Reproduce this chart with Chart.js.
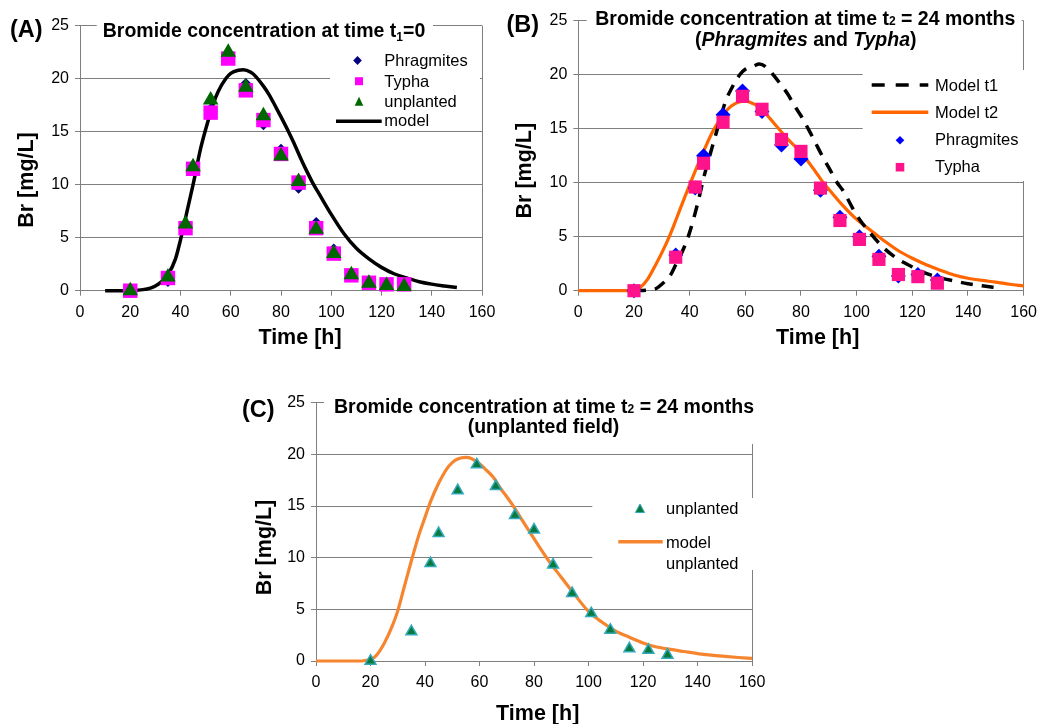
<!DOCTYPE html>
<html>
<head>
<meta charset="utf-8">
<script src="https://cdn.jsdelivr.net/npm/chart.js@4.4.1/dist/chart.umd.min.js"></script>
<style>
  html, body { margin: 0; padding: 0; background: #fff; }
  #wrap { position: relative; width: 1044px; height: 724px; overflow: hidden; }
  canvas, svg { position: absolute; left: 0; top: 0; }
  text { font-family: "Liberation Sans", Arial, sans-serif; fill: #000; }
  .ttl { font-size: 19.5px; font-weight: bold; }
  .ax { font-size: 21.5px; font-weight: bold; }
  .lbl { font-size: 23.5px; font-weight: bold; }
  .leg { font-size: 16.5px; }
</style>
</head>
<body>
<div id="wrap">
  <canvas id="chartA" width="1044" height="724"></canvas>
  <canvas id="chartB" width="1044" height="724"></canvas>
  <canvas id="chartC" width="1044" height="724"></canvas>
  <svg width="1044" height="724">
    <!-- white boxes behind titles and legends -->
    <rect x="96.7" y="17" width="336.3" height="26" fill="#fff"/>
    <rect x="330" y="45" width="150" height="83" fill="#fff"/>
    <rect x="586.7" y="3" width="435" height="51" fill="#fff"/>
    <rect x="862.7" y="70" width="181.3" height="111" fill="#fff"/>
    <rect x="324" y="392" width="438" height="52" fill="#fff"/>
    <rect x="592.3" y="498" width="168" height="72" fill="#fff"/>

    <!-- panel labels -->
    <text class="lbl" x="10" y="36.8">(A)</text>
    <text class="lbl" x="506.5" y="31.8">(B)</text>
    <text class="lbl" x="242" y="416.8">(C)</text>

    <!-- titles -->
    <text class="ttl" x="264" y="37.3" text-anchor="middle">Bromide concentration at time t<tspan font-size="12" dy="4">1</tspan><tspan dy="-4">=0</tspan></text>
    <text class="ttl" x="805.3" y="25" text-anchor="middle">Bromide concentration at time t<tspan font-size="12">2</tspan> = 24 months</text>
    <text class="ttl" x="805.8" y="45.9" text-anchor="middle">(<tspan font-style="italic">Phragmites</tspan> and <tspan font-style="italic">Typha</tspan>)</text>
    <text class="ttl" x="544" y="413" text-anchor="middle">Bromide concentration at time t<tspan font-size="12">2</tspan> = 24 months</text>
    <text class="ttl" x="543.5" y="432.6" text-anchor="middle">(unplanted field)</text>

    <!-- axis titles -->
    <text class="ax" text-anchor="middle" transform="translate(32.5,180) rotate(-90)">Br [mg/L]</text>
    <text class="ax" text-anchor="middle" transform="translate(531,170.7) rotate(-90)">Br [mg/L]</text>
    <text class="ax" text-anchor="middle" transform="translate(271,547.5) rotate(-90)">Br [mg/L]</text>
    <text class="ax" x="300" y="343.8" text-anchor="middle">Time [h]</text>
    <text class="ax" x="817.7" y="344" text-anchor="middle">Time [h]</text>
    <text class="ax" x="537.7" y="720" text-anchor="middle">Time [h]</text>

    <!-- legend A -->
    <polygon points="353.2,60.5 357.5,56 361.8,60.5 357.5,65" fill="#000080"/>
    <rect x="355" y="77.2" width="8" height="8" fill="#ff00ff"/>
    <polygon points="359,96.7 354.7,105.7 363.3,105.7" fill="#006600"/>
    <line x1="336" y1="121.3" x2="381.7" y2="121.3" stroke="#000" stroke-width="3.5"/>
    <text class="leg" x="384.3" y="66.3">Phragmites</text>
    <text class="leg" x="384.3" y="86.5">Typha</text>
    <text class="leg" x="384.3" y="106.5">unplanted</text>
    <text class="leg" x="384.3" y="126.3">model</text>

    <!-- legend B -->
    <line x1="871.7" y1="85" x2="928.3" y2="85" stroke="#000" stroke-width="3.5" stroke-dasharray="13 11"/>
    <line x1="871.7" y1="112.3" x2="928.3" y2="112.3" stroke="#ff6600" stroke-width="3.5"/>
    <polygon points="895.7,140.2 900,135.9 904.3,140.2 900,144.5" fill="#0000ff"/>
    <rect x="895.7" y="162.9" width="8.6" height="8.6" fill="#ff138c"/>
    <text class="leg" x="935" y="90.7">Model t1</text>
    <text class="leg" x="935" y="117.5">Model t2</text>
    <text class="leg" x="935" y="144.5">Phragmites</text>
    <text class="leg" x="935" y="171.5">Typha</text>

    <!-- legend C -->
    <polygon points="640,504 635.4,512.5 644.6,512.5" fill="#0a7a3c" stroke="#33a9bd" stroke-width="1"/>
    <line x1="618.3" y1="541.7" x2="662.7" y2="541.7" stroke="#f5862f" stroke-width="3.5"/>
    <text class="leg" x="666" y="513.5">unplanted</text>
    <text class="leg" x="666" y="548.3">model</text>
    <text class="leg" x="666" y="569.3">unplanted</text>
  </svg>
</div>
<script>
// sampling times of the tracer measurements [h]
const sampleTime = [20, 35, 42, 45, 52, 59, 66, 73, 80, 87, 94, 101, 108, 115, 122, 129];

// (A) t1 = 0
const phragA = [0, 1.0, 6.0, 11.6, 17.0, 22.0, 19.4, 15.8, 13.2, 9.8, 6.3, 3.8, 1.5, 0.8, 0.6, 0.6];
const typhaA = [0, 1.2, 5.9, 11.5, 16.8, 21.9, 18.9, 16.1, 12.9, 10.2, 5.9, 3.5, 1.45, 0.75, 0.6, 0.6];
const unplA = [0, 1.3, 6.3, 11.7, 18.0, 22.5, 19.2, 16.5, 12.7, 10.3, 5.8, 3.5, 1.5, 0.7, 0.5, 0.4];
const modelTimeA = [10, 20, 25, 28, 30, 33, 35, 38, 40, 43, 45, 48, 50, 53, 55, 58, 60, 63, 65, 68, 70,
  73, 75, 78, 80, 83, 85, 88, 90, 93, 95, 100, 105, 110, 115, 120, 125, 130, 135, 140, 145, 150];
const modelA = [0, 0, 0.1, 0.25, 0.45, 0.95, 1.5, 3.0, 4.8, 7.9, 10.0, 13.4, 15.2, 17.6, 18.8, 20.0, 20.5, 20.8, 20.85, 20.6, 20.2,
  19.3, 18.6, 17.3, 16.4, 15.0, 14.0, 12.4, 11.4, 10.0, 9.2, 7.2, 5.4, 4.0, 3.0, 2.2, 1.6, 1.2, 0.85, 0.62, 0.45, 0.3];

// (B) t2 = 24 months, planted
const phragB = [0, 3.3, 9.5, 12.5, 16.3, 18.5, 16.6, 13.5, 12.2, 9.3, 6.8, 5.0, 3.2, 1.35, 1.5, 1.0];
const typhaB = [0, 3.1, 9.6, 11.8, 15.6, 18.0, 16.8, 14.0, 12.9, 9.5, 6.5, 4.75, 2.9, 1.5, 1.3, 0.7];
const t1TimeB = [20, 25, 28, 30, 33, 35, 38, 40, 43, 45, 48, 50, 53, 55, 58, 60, 63, 65, 68, 70,
  73, 75, 78, 80, 83, 85, 88, 90, 93, 95, 100, 105, 110, 115, 120, 125, 130, 135, 140, 145, 150];
const t1B = [0, 0.05, 0.2, 0.6, 1.4, 2.4, 4.0, 5.4, 8.2, 10.4, 13.2, 15.0, 17.6, 18.7, 20.0, 20.5, 20.8, 21.0, 20.6, 20.0,
  19.0, 18.3, 17.0, 16.2, 14.8, 13.8, 12.3, 11.4, 10.0, 9.3, 7.0, 5.3, 3.9, 2.9, 2.2, 1.6, 1.2, 0.9, 0.65, 0.45, 0.3];
const t2TimeB = [0, 10, 18, 20, 22, 25, 28, 30, 33, 35, 38, 40, 43, 45, 48, 50, 53, 55, 58, 60, 63, 65, 68,
  70, 72, 75, 80, 85, 88, 90, 95, 100, 105, 108, 110, 115, 120, 125, 130, 135, 140, 145, 150, 155, 160];
const t2B = [0, 0, 0, 0.05, 0.25, 1.1, 2.5, 3.5, 5.2, 6.5, 8.5, 9.8, 11.7, 12.9, 14.6, 15.5, 16.6, 17.1, 17.5, 17.55, 17.3, 17.0, 16.2,
  15.6, 15.0, 14.1, 12.8, 11.1, 10.0, 9.4, 7.9, 6.6, 5.6, 5.0, 4.6, 3.7, 3.0, 2.4, 1.9, 1.45, 1.15, 0.95, 0.8, 0.6, 0.45];

// (C) t2 = 24 months, unplanted
const unplC = [0, 2.85, 9.45, 12.35, 16.5, 19.0, 16.9, 14.1, 12.7, 9.3, 6.55, 4.6, 3.0, 1.2, 1.05, 0.58];
const modelTimeC = [0, 10, 16, 18, 20, 22, 25, 28, 30, 32, 35, 38, 40, 42, 45, 48, 50, 52, 55, 57, 60, 62,
  65, 68, 70, 72, 75, 80, 85, 90, 95, 100, 105, 110, 115, 120, 125, 130, 135, 140, 145, 150, 155, 160];
const modelC = [0, 0, 0, 0.05, 0.15, 0.5, 1.7, 3.4, 4.85, 6.8, 9.7, 12.4, 13.9, 15.4, 17.2, 18.6, 19.2, 19.55, 19.7, 19.6, 19.1, 18.6,
  17.8, 16.6, 15.9, 15.15, 13.9, 11.85, 9.85, 8.1, 6.4, 4.8, 3.75, 2.9, 2.3, 1.75, 1.35, 1.12, 0.92, 0.72, 0.57, 0.45, 0.34, 0.25];

const xTicks = { min: 0, max: 160, step: 20 };
const yTicks = { min: 0, max: 25, step: 5 };

const FONT = '"Liberation Sans", Arial, sans-serif';
const GRID = '#7f7f7f';

const pts = (xs, ys) => xs.map((x, i) => ({ x: x, y: ys[i] }));

function markers(data, style, radius, color, border, borderWidth) {
  return {
    data: data, showLine: false, clip: false,
    pointStyle: style, pointRadius: radius, pointHoverRadius: radius,
    pointBackgroundColor: color,
    pointBorderColor: border || color,
    pointBorderWidth: borderWidth || 0
  };
}

function curve(data, color, width, dash) {
  return {
    data: data, showLine: true, clip: false, pointRadius: 0, fill: false,
    borderColor: color, borderWidth: width, borderDash: dash || [],
    cubicInterpolationMode: 'monotone'
  };
}

function makeChart(id, area, datasets) {
  const yW = 60, xH = 40;
  return new Chart(document.getElementById(id), {
    type: 'scatter',
    data: { datasets: datasets },
    options: {
      responsive: false,
      animation: false,
      devicePixelRatio: 1,
      events: [],
      layout: {
        padding: {
          left: area.left - yW,
          top: area.top,
          right: 1044 - area.right,
          bottom: 724 - area.bottom - xH
        }
      },
      plugins: { legend: { display: false }, tooltip: { enabled: false }, title: { display: false } },
      scales: {
        x: {
          type: 'linear', min: xTicks.min, max: xTicks.max,
          afterFit: s => { s.height = xH; },
          ticks: { stepSize: xTicks.step, color: '#000', font: { family: FONT, size: 16 }, padding: 7, maxRotation: 0 },
          grid: {
            color: c => (c.tick && c.tick.value === xTicks.max) ? GRID : 'rgba(0,0,0,0)',
            tickColor: GRID, tickLength: 5
          },
          border: { color: GRID }
        },
        y: {
          min: yTicks.min, max: yTicks.max,
          afterFit: s => { s.width = yW; },
          ticks: { stepSize: yTicks.step, color: '#000', font: { family: FONT, size: 16 }, padding: 6 },
          grid: { color: GRID, tickColor: GRID, tickLength: 5 },
          border: { color: GRID }
        }
      }
    }
  });
}

makeChart('chartA', { left: 80, right: 482, top: 25.7, bottom: 290.7 }, [
  markers(pts(sampleTime, unplA), 'triangle', 9, '#006600'),
  markers(pts(sampleTime, typhaA), 'rect', 10.2, '#ff00ff'),
  markers(pts(sampleTime, phragA), 'rectRot', 7, '#000080'),
  curve(pts(modelTimeA, modelA), '#000', 3.5)
]);

makeChart('chartB', { left: 578.3, right: 1029, top: 20.7, bottom: 290.7 }, [
  markers(pts(sampleTime, typhaB), 'rect', 9.3, '#ff138c'),
  markers(pts(sampleTime, phragB), 'rectRot', 7.5, '#0000ff'),
  curve(pts(t1TimeB, t1B), '#000', 3.5, [12, 9]),
  curve(pts(t2TimeB, t2B), '#ff6600', 3.2)
]);

makeChart('chartC', { left: 316, right: 752, top: 402.7, bottom: 661 }, [
  markers(pts(sampleTime, unplC), 'triangle', 6.3, '#0a7a3c', '#33a9bd', 1.5),
  curve(pts(modelTimeC, modelC), '#f5862f', 3.2)
]);
</script>
</body>
</html>
